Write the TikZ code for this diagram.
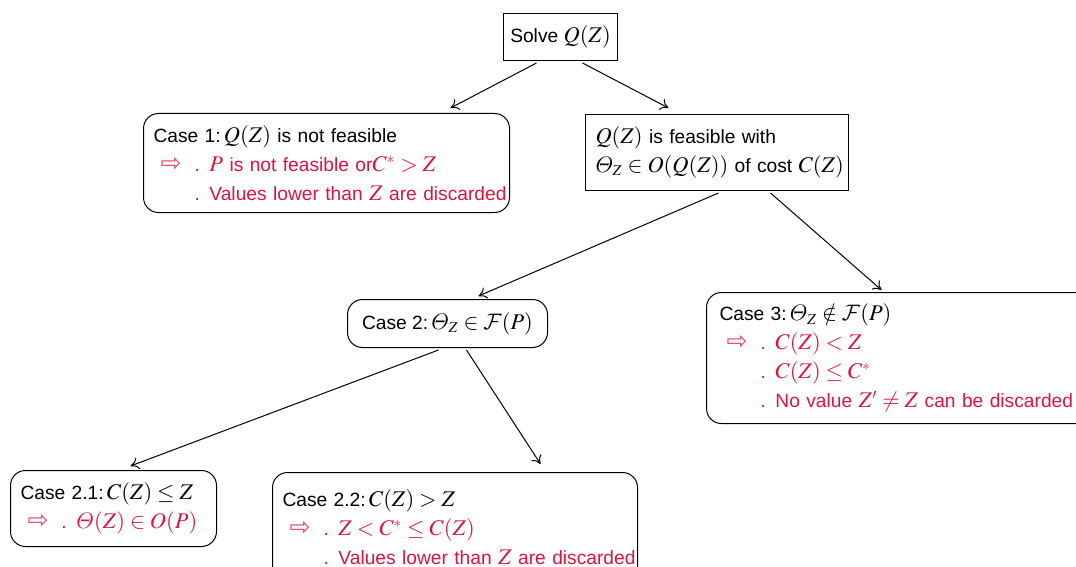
\documentclass[tikz,border=0pt]{standalone}
\usepackage{fix-cm}
\usepackage{mathptmx}
\DeclareMathAlphabet{\mathcal}{OMS}{cmsy}{m}{n}
\DeclareSymbolFont{cmletters}{OML}{cmm}{m}{it}
\DeclareMathSymbol{\itTheta}{\mathord}{cmletters}{"02}
\DeclareMathSizes{9.6}{11.2}{7.5}{6}
\usepackage[no-math]{fontspec}
\setmainfont{Liberation Sans}
\newfontfamily\symfont{DejaVu Sans}
\usetikzlibrary{calc,arrows.meta}

\definecolor{casered}{RGB}{220,20,60}
\newcommand{\boxfont}{\fontsize{9.6}{14.5}\selectfont\hyphenpenalty=10000\relax}
\newcommand{\thenarrow}{\makebox[20.5pt][l]{\hspace*{3.5pt}{\symfont\fontsize{12.5}{12.5}\selectfont\color{casered!75}⇨}}}
\newcommand{\skiparrow}{\hspace*{20.5pt}}

\tikzset{
  box/.style={draw, line width=0.5pt, anchor=north west, align=left,
    inner xsep=5pt, inner ysep=0pt, font=\boxfont},
  casebox/.style={box, rounded corners=7.5pt},
  arr/.style={-{To[length=4pt,width=6pt]}, line width=0.5pt},
}

\begin{document}
\begin{tikzpicture}[x=0.5pt, y=-0.5pt]
  \useasboundingbox (0,0) rectangle (1076,567);

  % Top of the tree
  \node[box, align=center, inner xsep=2pt, minimum width=57pt, minimum height=23.5pt] (solve) at (503,13) {Solve $Q(Z)$};
  \node[casebox, text width=173pt, minimum height=49.5pt] (case1) at (143,113)
    {Case 1:\,$Q(Z)$ is not feasible\\
     \color{casered}\mbox{\thenarrow. $P$ is not feasible or$C^* > Z$}\\
     \color{casered}\mbox{\skiparrow. Values lower than $Z$ are discarded}};
  \node[box, text width=121.5pt, minimum height=38pt] (feas) at (585,114)
    {$Q(Z)$ is feasible with\\
     \mbox{$\itTheta_Z \in O(Q(Z))$ of cost $C(Z)$}};

  % Second level
  \node[casebox, align=center, minimum width=100pt, minimum height=24pt] (case2) at (347,299)
    {Case 2:\,$\itTheta_Z \in \mathcal{F}(P)$};
  \node[casebox, inner xsep=6.5pt, text width=180pt, minimum height=65.5pt] (case3) at (706,292)
    {Case 3:\,$\itTheta_Z \notin \mathcal{F}(P)$\\
     \color{casered}\thenarrow. $C(Z) < Z$\\
     \color{casered}\skiparrow. $C(Z) \le C^*$\\
     \color{casered}\mbox{\skiparrow. No value $Z' \neq Z$ can be discarded}};

  % Third level
  \node[casebox, text width=93pt, minimum height=38pt] (case21) at (10,470)
    {Case 2.1:\,$C(Z) \le Z$\\
     \color{casered}\thenarrow. $\itTheta(Z) \in O(P)$};
  \node[casebox, text width=172.5pt, minimum height=55pt] (case22) at (272,472)
    {Case 2.2:\,$C(Z) > Z$\\
     \color{casered}\thenarrow. $Z < C^* \le C(Z)$\\
     \color{casered}\mbox{\skiparrow. Values lower than $Z$ are discarded}};

  % Connectors
  \draw[arr] ($(solve.south)+(-24,2)$) -- ($(case1.north)+(124,-5)$);
  \draw[arr] ($(solve.south)+(22,2)$) -- ($(feas.north)+(-48.5,-6)$);
  \draw[arr] ($(feas.south)+(1.5,2)$) -- ($(case2.north)+(31,-3)$);
  \draw[arr] ($(feas.south)+(53.5,2)$) -- ($(case3.north)+(-18,-2)$);
  \draw[arr] ($(case2.south)+(-9,2)$) -- ($(case21.north)+(17,-4)$);
  \draw[arr] ($(case2.south)+(19,2)$) -- ($(case22.north)+(85.5,-8)$);
\end{tikzpicture}
\end{document}
